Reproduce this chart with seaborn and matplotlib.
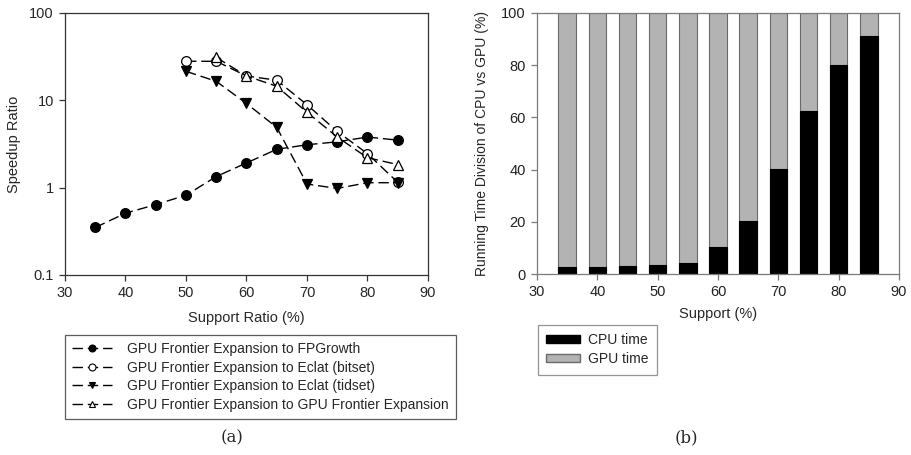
import matplotlib
matplotlib.use("Agg")
import matplotlib.pyplot as plt
from matplotlib.lines import Line2D
from matplotlib.patches import Patch
import seaborn as sns

# data
support = [35, 40, 45, 50, 55, 60, 65, 70, 75, 80, 85]
fpgrowth = [0.35, 0.51, 0.64, 0.82, 1.34, 1.92, 2.75, 3.1, 3.35, 3.8, 3.5]

support_hi = [50, 55, 60, 65, 70, 75, 80, 85]
eclat_bitset = [28, 28, 19, 17, 8.9, 4.4, 2.45, 1.15]
eclat_tidset = [21.5, 16.5, 9.2, 4.9, 1.1, 0.98, 1.14, 1.14]

support_gfe = [55, 60, 65, 70, 75, 80, 85]
gpu_fe = [31, 19, 14.5, 7.3, 3.8, 2.2, 1.84]

cpu_time = [2.5, 2.5, 3.0, 3.5, 4.2, 10.2, 20.2, 40.2, 62.3, 80.2, 91.3]
total_time = [100] * len(support)

legend_a = ["GPU Frontier Expansion to FPGrowth",
            "GPU Frontier Expansion to Eclat (bitset)",
            "GPU Frontier Expansion to Eclat (tidset)",
            "GPU Frontier Expansion to GPU Frontier Expansion"]
legend_b = ["CPU time", "GPU time"]

sns.set_style("ticks")
plt.rcParams["font.family"] = ["Liberation Sans", "DejaVu Sans"]
plt.rcParams["font.size"] = 10.5

W, H = 912, 455
fig = plt.figure(figsize=(W / 100, H / 100), dpi=100)

def box(x0, y0, x1, y1):
    return [x0 / W, 1 - y1 / H, (x1 - x0) / W, (y1 - y0) / H]

ax1 = fig.add_axes(box(65, 13, 428, 275))
ax2 = fig.add_axes(box(537, 13, 899, 274))

# (a) speedup lines
dash = (0, (7.5, 3.5))
series = [
    (support, fpgrowth, "o", "black"),
    (support_hi, eclat_bitset, "o", "white"),
    (support_hi, eclat_tidset, "v", "black"),
    (support_gfe, gpu_fe, "^", "white"),
]
handles = []
for (xs, ys, mk, fc), lab in zip(series, legend_a):
    sns.lineplot(x=xs, y=ys, ax=ax1, color="black", linewidth=1,
                 linestyle=dash, marker=mk, markersize=7,
                 markerfacecolor=fc, markeredgecolor="black",
                 markeredgewidth=0.9, legend=False)
    handles.append(Line2D([], [], color="black", linewidth=1, linestyle=dash,
                          marker=mk, markersize=5, markerfacecolor=fc,
                          markeredgecolor="black", markeredgewidth=0.8))

ax1.set_yscale("log")
ax1.set_ylim(0.1, 100)
ax1.set_yticks([0.1, 1, 10, 100])
ax1.set_yticklabels(["0.1", "1", "10", "100"])
ax1.minorticks_off()
ax1.set_xlim(30, 90)
ax1.set_xticks(range(30, 91, 10))
ax1.set_xlabel("Support Ratio (%)", labelpad=8)
ax1.set_ylabel("Speedup Ratio", labelpad=6)
for s in ax1.spines.values():
    s.set_color("#333333")
    s.set_linewidth(0.9)
ax1.tick_params(length=4, width=0.9, color="#333333", pad=4)

# (b) stacked bars
grey = "#b3b3b3"
sns.barplot(x=support, y=total_time, ax=ax2, native_scale=True, width=0.58,
            color=grey, saturation=1, edgecolor="#6a6a6a", linewidth=0.8,
            errorbar=None)
sns.barplot(x=support, y=cpu_time, ax=ax2, native_scale=True, width=0.58,
            color="black", saturation=1, edgecolor="black", linewidth=0.8,
            errorbar=None)
ax2.set_xlim(30, 90)
ax2.set_xticks(range(30, 91, 10))
ax2.set_ylim(0, 100)
ax2.set_yticks(range(0, 101, 20))
ax2.set_xlabel("Support (%)", labelpad=6)
ax2.set_ylabel("Running Time Division of CPU vs GPU (%)", labelpad=9,
               fontsize=10)
for s in ax2.spines.values():
    s.set_color("#7a7a7a")
    s.set_linewidth(0.9)
ax2.tick_params(length=4, width=0.9, color="#7a7a7a", labelcolor="#222222", pad=4)

# legends
lg1 = fig.legend(handles, legend_a, loc="upper left",
                 bbox_to_anchor=(65 / W, 1 - 335 / H), fontsize=10,
                 frameon=True, fancybox=False, edgecolor="#333333",
                 handlelength=2.9, handletextpad=1.1, borderpad=0.5,
                 labelspacing=0.33, borderaxespad=0)
lg1.get_frame().set_linewidth(0.9)

patches = [Patch(facecolor="black", edgecolor="black"),
           Patch(facecolor=grey, edgecolor="#6a6a6a")]
lg2 = fig.legend(patches, legend_b, loc="upper left",
                 bbox_to_anchor=(538 / W, 1 - 325 / H), fontsize=10,
                 frameon=True, fancybox=False, edgecolor="#7a7a7a",
                 handlelength=2.4, handleheight=0.5, handletextpad=0.6,
                 borderpad=0.6, labelspacing=0.35, borderaxespad=0)
lg2.get_frame().set_linewidth(0.9)

# captions
fig.text(232 / W, 1 - 438 / H, "(a)", family="DejaVu Serif", fontsize=12,
         ha="center", va="center")
fig.text(686 / W, 1 - 438 / H, "(b)", family="DejaVu Serif", fontsize=12,
         ha="center", va="center")

fig.savefig("out.png", dpi=100)
